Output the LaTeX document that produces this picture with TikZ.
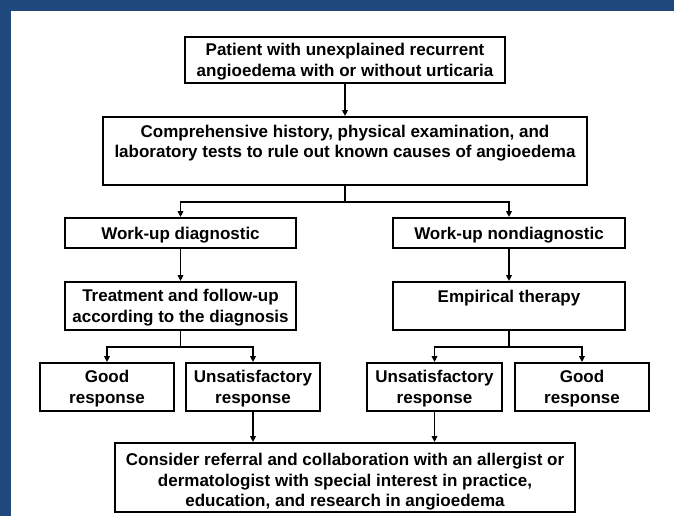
\documentclass[tikz,border=0pt]{standalone}
\usepackage{fontspec}
\setmainfont{Liberation Sans}
\usetikzlibrary{arrows.meta}
\definecolor{frameblue}{RGB}{31,73,125}
% last line of a stacked label: its descenders do not count towards the box depth
\newcommand\lastline[1]{\raisebox{0pt}[\height][0pt]{#1}}
\begin{document}
\begin{tikzpicture}[x=1pt,y=-1pt,
  boxfont/.style={font=\bfseries\fontsize{17}{20.5}\selectfont},
  box/.style={draw=black, line width=1.8pt, rectangle, inner sep=0pt,
    align=center, boxfont},
  boxtext/.style={inner sep=0pt, align=center, anchor=north, boxfont},
  link/.style={line width=1.8pt},
  arrowlink/.style={link, -{Triangle[length=6pt,width=5.5pt]}}]
% page and frame
\fill[white] (0,0) rectangle (674,516);
\useasboundingbox (0,0) rectangle (674,516);
\fill[frameblue] (0,0) rectangle (674,11);
\fill[frameblue] (0,0) rectangle (11,516);

% boxes
\node[box, minimum width=320pt, minimum height=46pt] (patient) at (345,60)
  {Patient with unexplained recurrent\\\lastline{angioedema with or without urticaria}};
\node[box, minimum width=484pt, minimum height=68pt] (history) at (345,151) {};
\node[boxtext] (historytext) at ([yshift=-8.5pt]history.north)
  {Comprehensive history, physical examination, and\\laboratory tests to rule out known causes of angioedema};

\node[box, minimum width=231pt, minimum height=30pt] (diag) at (180.5,233) {\lastline{Work-up diagnostic}};
\node[box, minimum width=232pt, minimum height=30pt] (nondiag) at (509,233) {\lastline{Work-up nondiagnostic}};

\node[box, minimum width=231pt, minimum height=48pt] (treat) at (180.5,306)
  {Treatment and follow-up\\\lastline{according to the diagnosis}};
\node[box, minimum width=232pt, minimum height=48pt] (empir) at (509,306) {};
\node[boxtext] (empirtext) at ([yshift=-8.5pt]empir.north) {Empirical therapy};

\node[box, minimum width=134pt, minimum height=48pt] (goodL) at (107,387) {Good\\\lastline{response}};
\node[box, minimum width=134pt, minimum height=48pt] (unsatL) at (253,387) {Unsatisfactory\\\lastline{response}};
\node[box, minimum width=135pt, minimum height=48pt] (unsatR) at (434.5,387) {Unsatisfactory\\\lastline{response}};
\node[box, minimum width=134pt, minimum height=48pt] (goodR) at (582,387) {Good\\\lastline{response}};

\node[box, minimum width=460pt, minimum height=69pt] (refer) at (345,477.5)
  {\rule{0pt}{17pt}Consider referral and collaboration with an allergist or\\dermatologist with special interest in practice,\\\lastline{education, and research in angioedema}};

% connectors
\draw[arrowlink] (patient.south) -- (history.north);

\coordinate (splitA) at (345,202);
\draw[link] (history.south) -- (splitA);
\draw[arrowlink] (splitA) -| (diag.north);
\draw[arrowlink] (splitA) -| (nondiag.north);

\draw[arrowlink] (diag.south) -- (treat.north);
\draw[arrowlink] (nondiag.south) -- (empir.north);

\coordinate (splitL) at (180.5,347);
\draw[link] (treat.south) -- (splitL);
\draw[arrowlink] (splitL) -| (goodL.north);
\draw[arrowlink] (splitL) -| (unsatL.north);

\coordinate (splitR) at (509,347);
\draw[link] (empir.south) -- (splitR);
\draw[arrowlink] (splitR) -| (unsatR.north);
\draw[arrowlink] (splitR) -| (goodR.north);

\draw[arrowlink] (unsatL.south) -- (unsatL.south |- refer.north);
\draw[arrowlink] (unsatR.south) -- (unsatR.south |- refer.north);
\end{tikzpicture}
\end{document}
